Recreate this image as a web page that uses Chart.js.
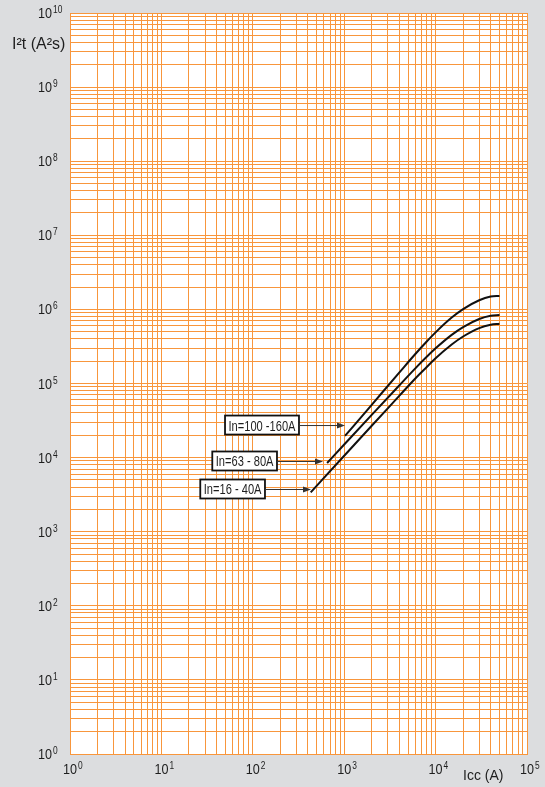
<!DOCTYPE html>
<html>
<head>
<meta charset="utf-8">
<title>I²t</title>
<script src="https://cdn.jsdelivr.net/npm/chart.js@4.4.0/dist/chart.umd.min.js"></script>
<style>
  body { margin: 0; background: #dcdddf; }
  #wrap { width: 545px; height: 787px; }
</style>
</head>
<body>
<div id="wrap"><canvas id="i2tChart"></canvas></div>
<script>
'use strict'

// Let-through energy I²t (A²s) against prospective current Icc (A)
const ratings = ['In=16 - 40A', 'In=63 - 80A', 'In=100 -160A'];

const icc16 = [430, 1000, 2000, 4000, 6000, 8000, 10000, 15000, 20000, 30000, 40000, 50000];
const i2t16 = [3.4e3, 1.06e4, 2.69e4, 6.8e4, 1.17e5, 1.67e5, 2.19e5, 3.36e5, 4.31e5, 5.6e5, 6.2e5, 6.4e5];

const icc63 = [650, 1000, 2000, 4000, 6000, 8000, 10000, 15000, 20000, 30000, 40000, 50000];
const i2t63 = [8.45e3, 1.5e4, 3.77e4, 9.4e4, 1.6e5, 2.29e5, 2.98e5, 4.53e5, 5.77e5, 7.42e5, 8.2e5, 8.4e5];

const icc100 = [1020, 2000, 4000, 6000, 8000, 10000, 15000, 20000, 30000, 40000, 50000];
const i2t100 = [1.96e4, 5.16e4, 1.4e5, 2.5e5, 3.69e5, 4.9e5, 7.75e5, 1.01e6, 1.33e6, 1.49e6, 1.52e6];

// where each rating's arrow ends, in (Icc, I²t)
const arrowTips = [[433, 3770], [586, 9000], [1020, 2.75e4]];

const xTickExponents = [0, 1, 2, 3, 4, 5];
const yTickExponents = [0, 1, 2, 3, 4, 5, 6, 7, 8, 9, 10];

const FONT = "'Liberation Sans', Arial, sans-serif";
const GRID = '#f8963c';

function toPoints(xs, ys) {
    return xs.map((x, i) => ({ x: x, y: ys[i] }));
}

// 1..9 in every decade, plus the closing decade
function logGrid(scale) {
    const lo = Math.round(Math.log10(scale.min));
    const hi = Math.round(Math.log10(scale.max));
    const ticks = [];
    for (let e = lo; e < hi; e++) {
        for (let s = 1; s <= 9; s++) ticks.push({ value: s * Math.pow(10, e) });
    }
    ticks.push({ value: Math.pow(10, hi) });
    scale.ticks = ticks;
}

// narrow text, squeezed horizontally
function narrowText(ctx, text, x, y, sx) {
    ctx.save();
    ctx.translate(x, y);
    ctx.scale(sx, 1);
    ctx.textAlign = 'left';
    ctx.fillText(text, 0, 0);
    ctx.restore();
}

function power(ctx, exp, x, y, align) {
    ctx.font = '15px ' + FONT;
    const w = ctx.measureText('10').width * 0.84;
    const left = align === 'center' ? x - w / 2 : x;
    narrowText(ctx, '10', left, y, 0.84);
    ctx.font = '10px ' + FONT;
    narrowText(ctx, String(exp), left + w + 1, y - 5, 0.84);
}

const paperPlugin = {
    id: 'paper',
    beforeDraw(chart) {
        const { ctx, chartArea: a } = chart;
        ctx.save();
        ctx.fillStyle = '#dcdddf';
        ctx.fillRect(0, 0, chart.width, chart.height);
        ctx.fillStyle = '#ffffff';
        ctx.fillRect(a.left, a.top, a.right - a.left, a.bottom - a.top);
        ctx.restore();
    },
    afterDraw(chart) {
        const { ctx } = chart;
        const xs = chart.scales.x;
        const ys = chart.scales.y;
        ctx.save();
        ctx.fillStyle = '#1e1e1e';
        ctx.textBaseline = 'alphabetic';

        xTickExponents.forEach(e => {
            power(ctx, e, xs.getPixelForValue(Math.pow(10, e)), 774, 'center');
        });
        yTickExponents.forEach(e => {
            power(ctx, e, 38, ys.getPixelForValue(Math.pow(10, e)) + 5, 'left');
        });

        ctx.font = '16px ' + FONT;
        ctx.textAlign = 'left';
        ctx.fillText('I²t (A²s)', 12, 49);
        ctx.font = '14px ' + FONT;
        ctx.fillText('Icc (A)', 463, 780);

        // rating boxes with arrows
        ratings.forEach((label, i) => {
            const tx = xs.getPixelForValue(arrowTips[i][0]);
            const ty = ys.getPixelForValue(arrowTips[i][1]);
            const right = tx - 46;
            ctx.font = '15px ' + FONT;
            const tw = ctx.measureText(label).width * 0.74;
            const bw = tw + 7;
            const bh = 19;
            ctx.fillStyle = '#ffffff';
            ctx.fillRect(right - bw, ty - bh / 2, bw, bh);
            ctx.strokeStyle = '#111111';
            ctx.lineWidth = 1.8;
            ctx.strokeRect(right - bw, ty - bh / 2, bw, bh);
            ctx.fillStyle = '#1e1e1e';
            narrowText(ctx, label, right - bw + 3.5, ty + 5.5, 0.74);

            ctx.strokeStyle = '#333333';
            ctx.lineWidth = 1;
            ctx.beginPath();
            ctx.moveTo(right, ty + 0.5);
            ctx.lineTo(tx - 6, ty + 0.5);
            ctx.stroke();
            ctx.fillStyle = '#333333';
            ctx.beginPath();
            ctx.moveTo(tx, ty + 0.5);
            ctx.lineTo(tx - 8, ty - 2.5);
            ctx.lineTo(tx - 8, ty + 3.5);
            ctx.closePath();
            ctx.fill();
        });
        ctx.restore();
    }
};

function curve(xs, ys) {
    return {
        data: toPoints(xs, ys),
        borderColor: '#111111',
        borderWidth: 2,
        pointRadius: 0,
        cubicInterpolationMode: 'monotone',
        fill: false
    };
}

const axis = (min, max) => ({
    type: 'logarithmic',
    min: min,
    max: max,
    afterBuildTicks: logGrid,
    ticks: { display: false },
    grid: { color: GRID, lineWidth: 1, drawTicks: false },
    border: { display: true, color: GRID, width: 1 }
});

const ctx = document.getElementById('i2tChart').getContext('2d');
const i2tChart = new Chart(ctx, {
    type: 'line',
    data: {
        datasets: [
            curve(icc16, i2t16),
            curve(icc63, i2t63),
            curve(icc100, i2t100)
        ]
    },
    options: {
        responsive: true,
        maintainAspectRatio: false,
        animation: false,
        layout: { padding: { left: 70, right: 18, top: 13, bottom: 33 } },
        plugins: { legend: { display: false }, tooltip: { enabled: false } },
        scales: {
            x: axis(1, 1e5),
            y: axis(1, 1e10)
        }
    },
    plugins: [paperPlugin]
});
</script>
</body>
</html>
